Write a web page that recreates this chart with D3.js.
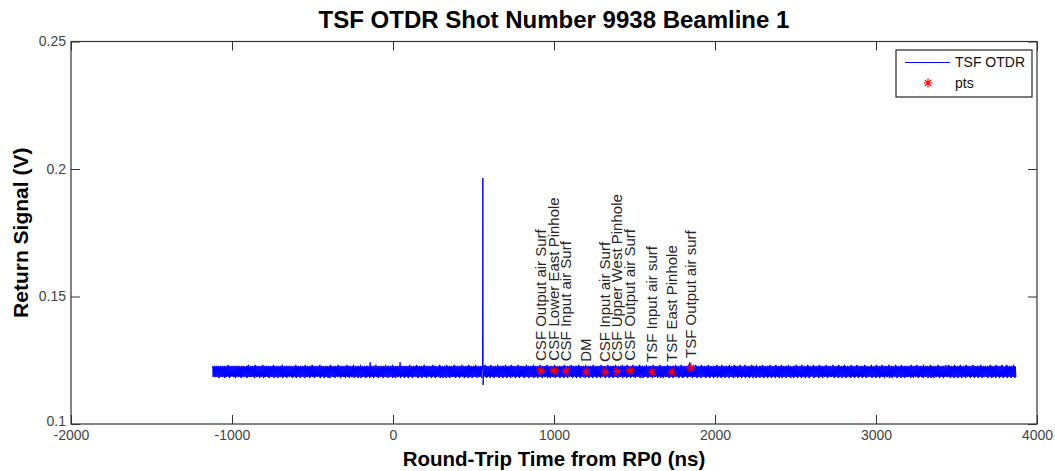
<!DOCTYPE html>
<html>
<head>
<meta charset="utf-8">
<script src="https://cdn.jsdelivr.net/npm/d3@7"></script>
<style>
body { margin: 0; background: #fff; }
text { font-family: "Liberation Sans", Arial, sans-serif; }
</style>
</head>
<body>
<div id="chart"></div>
<script>
// axis ticks
var xTicks = [-2000, -1000, 0, 1000, 2000, 3000, 4000];
var yTicks = [0.1, 0.15, 0.2, 0.25];

// OTDR trace: first sample / spacing (ns), baseline (V), one digit (0..9) per sample
var traceStart = -1120;
var traceEnd = 3870;
var traceStep = 3;
var traceBase = 0.1206;
// voltage offset for each digit level 0..9
var digitLevels = [-0.0036, -0.0026, -0.0022, -0.0019, -0.0005, 0.0005, 0.0019, 0.0022, 0.0026, 0.0036];
var noiseDigits =
  "72637262736271627362726371627263827162736372627162737263726172637263627172836272" +
  "62736271837262736172627381627263726271637262738172637261736272638162736271726372" +
  "73627162736281726372617263726271836272637162738272617263726372816273627162736271" +
  "62718372637261726372836271627362726173826271637262738162736271726381627263726172" +
  "72637192736271627382627163726273617263826271736272638172627163726273917263726172" +
  "63726172836271627362738271627263716273826271637263726172836271726362738172627163" +
  "72618372627163726273827162736271726382637162726371827263716272638271637262736172" +
  "62738271627362718372627163726382716273627172638271627362718372637261726382716273" +
  "73627162738262716372627381627263716273826271637262738172627163726273817262736271" +
  "62736271827362716372638271627362717263827163726273618272637162736271826372617263" +
  "72618372637261726382716273627172638272617362726381627263718272637162738262716372" +
  "63728172627163726382617263726271836272637162738172627163726273827162736271726382" +
  "72637162738271627263726172839263716272638271627362718372637261726382716273627172" +
  "62738172637261827263716273627182637262718372637162738271626372817263726172638271" +
  "73627182636271726382716273627172638271627362718372627163728162736271726382627163" +
  "62717263827162736271826372617263827162736372817262736271827362716372638271627362" +
  "72638271627362718272637162738271627263726182736271627382716273627172638271627362" +
  "63728162726371827263716273826271637262738172627163726382716273627183726271637262" +
  "72637182627163727382617263726271836272637162738172627163726273827162736271726382" +
  "62738271627263718273627162738271627362718372637261726382716273627172638271627362" +
  "73627162738271627263718273627162738271626372817263726172638271627362718372637261" +
  "62738172637261827263716273627182637262718372637162738271627263718273627162738271";

// reflection spike (ns, V)
var spikeX = [556, 558, 560, 562];
var spikeY = [0.1212, 0.1965, 0.1153, 0.1206];

// marked reflection points
var ptsX = [919, 1000, 1075, 1199, 1317, 1391, 1472, 1609, 1733, 1851];
var ptsY = [0.1208, 0.1209, 0.1207, 0.1205, 0.1204, 0.1206, 0.1209, 0.1204, 0.1204, 0.1220];
var ptsNames = ["CSF Output air Surf", "CSF Lower East Pinhole", "CSF Input air Surf", "DM",
  "CSF Input air Surf", "CSF Upper West Pinhole", "CSF Output air Surf",
  "TSF Input air surf", "TSF East Pinhole", "TSF Output air surf"];

var width = 1055, height = 471;
var margin = {left: 71, right: 18, top: 41.5, bottom: 47};

var svg = d3.select("#chart").append("svg")
  .attr("width", width)
  .attr("height", height);

var x = d3.scaleLinear().domain([-2000, 4000]).range([margin.left, width - margin.right]);
var y = d3.scaleLinear().domain([0.1, 0.25]).range([height - margin.bottom, margin.top]);

// build trace from the digit string, with the spike samples inserted
var trace = [];
var spikeDone = false;
for (var i = 0; i < noiseDigits.length; i++) {
  var t = traceStart + i * traceStep;
  if (t > traceEnd) break;
  if (t >= spikeX[0] && t <= spikeX[spikeX.length - 1]) {
    if (!spikeDone) {
      for (var k = 0; k < spikeX.length; k++) trace.push([spikeX[k], spikeY[k]]);
      spikeDone = true;
    }
    continue;
  }
  trace.push([t, traceBase + digitLevels[+noiseDigits[i]]]);
}

var line = d3.line().x(function(d) { return x(d[0]); }).y(function(d) { return y(d[1]); });

svg.append("path")
  .datum(trace)
  .attr("d", line)
  .attr("fill", "none")
  .attr("stroke", "#0000ff")
  .attr("stroke-width", 1);

// asterisk marker
function star(s) {
  var d = s * 0.7;
  return "M" + (-s) + ",0H" + s + "M0," + (-s) + "V" + s +
    "M" + (-d) + "," + (-d) + "L" + d + "," + d + "M" + (-d) + "," + d + "L" + d + "," + (-d);
}

var pts = svg.append("g").selectAll("g")
  .data(ptsX.map(function(v, i) { return {x: v, y: ptsY[i], name: ptsNames[i]}; }))
  .enter().append("g");

pts.append("path")
  .attr("transform", function(d) { return "translate(" + x(d.x) + "," + y(d.y) + ")"; })
  .attr("d", star(4.5))
  .attr("stroke", "#ff0000")
  .attr("stroke-width", 1.2)
  .attr("fill", "none");

pts.append("text")
  .attr("transform", function(d) { return "translate(" + x(d.x) + "," + (y(d.y) - 10) + ") rotate(-90)"; })
  .attr("dy", "0.36em")
  .attr("font-size", 15)
  .attr("fill", "#262626")
  .text(function(d) { return d.name; });

// axes box, MATLAB-like inward ticks
var axisColor = "#333";
var tickLen = 9;
var box = svg.append("g");

box.append("rect")
  .attr("x", x(-2000)).attr("y", y(0.25))
  .attr("width", x(4000) - x(-2000)).attr("height", y(0.1) - y(0.25))
  .attr("fill", "none").attr("stroke", axisColor).attr("stroke-width", 1.2);

var bottomAxis = d3.axisBottom(x).tickValues(xTicks).tickSizeInner(-tickLen).tickSizeOuter(0)
  .tickPadding(6).tickFormat(function(d) { return String(d); });
var topAxis = d3.axisTop(x).tickValues(xTicks).tickSizeInner(-tickLen).tickSizeOuter(0).tickFormat("");
var leftAxis = d3.axisLeft(y).tickValues(yTicks).tickSizeInner(-tickLen).tickSizeOuter(0)
  .tickPadding(5).tickFormat(function(d) { return String(+d.toFixed(2)); });
var rightAxis = d3.axisRight(y).tickValues(yTicks).tickSizeInner(-tickLen).tickSizeOuter(0).tickFormat("");

function styleAxis(g) {
  g.select(".domain").remove();
  g.selectAll("line").attr("stroke", axisColor);
  g.selectAll("text").attr("fill", "#444").attr("font-size", 14)
    .attr("font-family", "'Liberation Sans', Arial, sans-serif");
}

box.append("g").attr("transform", "translate(0," + y(0.1) + ")").call(bottomAxis).call(styleAxis);
box.append("g").attr("transform", "translate(0," + y(0.25) + ")").call(topAxis).call(styleAxis);
var leftG = box.append("g").attr("transform", "translate(" + x(-2000) + ",0)").call(leftAxis).call(styleAxis);
box.append("g").attr("transform", "translate(" + x(4000) + ",0)").call(rightAxis).call(styleAxis);

// lowest y label sits slightly above its tick, as in the original
leftG.selectAll(".tick text").filter(function(d) { return d === 0.1; }).attr("dy", "0.12em");

// titles
svg.append("text")
  .attr("x", 554).attr("y", 28)
  .attr("text-anchor", "middle")
  .attr("font-size", 24).attr("font-weight", "bold")
  .text("TSF OTDR Shot Number 9938 Beamline 1");

svg.append("text")
  .attr("x", 554).attr("y", 466)
  .attr("text-anchor", "middle")
  .attr("font-size", 20.5).attr("font-weight", "bold")
  .text("Round-Trip Time from RP0 (ns)");

svg.append("text")
  .attr("transform", "translate(28," + ((y(0.1) + y(0.25)) / 2) + ") rotate(-90)")
  .attr("text-anchor", "middle")
  .attr("font-size", 21).attr("font-weight", "bold")
  .text("Return Signal (V)");

// legend
var lg = svg.append("g").attr("transform", "translate(896,50)");
lg.append("rect").attr("width", 136).attr("height", 47)
  .attr("fill", "#fff").attr("stroke", "#262626").attr("stroke-width", 1.2);
lg.append("line").attr("x1", 9).attr("x2", 54).attr("y1", 12.5).attr("y2", 12.5)
  .attr("stroke", "#0000ff").attr("stroke-width", 1.2);
lg.append("text").attr("x", 59).attr("y", 17).attr("font-size", 14).attr("fill", "#111").text("TSF OTDR");
lg.append("path").attr("transform", "translate(32,33)").attr("d", star(4.5))
  .attr("stroke", "#ff0000").attr("stroke-width", 1.2).attr("fill", "none");
lg.append("text").attr("x", 59).attr("y", 38).attr("font-size", 14).attr("fill", "#111").text("pts");
</script>
</body>
</html>
